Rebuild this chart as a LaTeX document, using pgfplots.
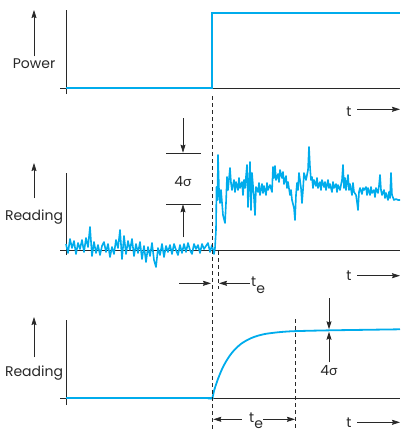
\documentclass[border=0pt]{standalone}
\usepackage{pgfplots}
\pgfplotsset{compat=1.18}
\usepackage{fontspec}
\setmainfont{Poppins}
\newfontfamily\greekfont{Lato}
\usetikzlibrary{arrows.meta}
\definecolor{cyanline}{RGB}{0,172,236}
\definecolor{axisgray}{RGB}{40,40,40}

\pgfplotstableread{
t r
0 6
2 -3
4 11
6 2
8 9
10 -4
12 7
14 1
16 10
18 -2
20 12
22 3
24 23
26 -6
28 8
30 -3
32 5
34 -5
36 4
38 8
40 -2
42 6
44 -7
46 3
48 -4
50 10
52 2
54 20
56 -9
58 14
60 -4
62 9
64 0
66 11
68 -6
70 6
72 -3
74 8
76 -9
78 4
80 -12
82 3
84 -6
86 7
88 -10
90 -17
92 2
94 -5
96 6
98 -7
100 4
102 -2
104 5
106 -4
108 6
110 0
112 -5
114 5
116 -3
118 6
120 -2
122 7
124 0
126 -4
128 6
130 1
132 5
134 -3
136 6
138 1
140 4
142 7
144 -2
146 5
148 -4
149 2
150 20
150.5 63
151.5 50
152 95
153 60
154 47
155 60
157 35
159 27
160 47
161 73
162 60
164 82
165 67
166 60
168 70
169 58
170 68
172 60
173 72
174 62
176 68
177 55
178 70
179 62
181 85
182 43
184 88
185 40
186 77
188 52
189 35
190 63
192 58
193 67
194 55
196 66
197 57
198 64
200 55
201 67
202 60
204 65
206 58
207 83
208 72
209 84
210 70
212 76
213 68
214 80
216 72
217 78
218 66
220 74
221 62
222 68
224 55
225 60
226 50
228 42
229 30
230 55
231 67
232 60
233 77
234 70
235 62
236 47
237 60
238 77
240 70
242 80
243 103
244 83
245 70
246 73
247 62
248 70
250 64
251 72
252 62
254 68
255 60
256 70
258 63
259 68
260 60
262 70
263 62
264 66
266 58
267 68
268 62
270 66
271 58
272 65
274 60
276 70
277 85
278 62
279 72
280 60
282 75
283 60
284 66
286 55
287 67
288 58
290 55
291 48
292 40
293 58
294 62
296 56
297 62
298 60
300 63
301 55
302 62
304 55
305 63
306 57
308 60
309 53
310 62
312 57
313 64
314 75
315 60
316 55
318 60
319 52
320 57
322 50
323 58
324 52
325 77
326 55
328 50
330 51
332 50
334 50
}\noisydata

\pgfplotstableread{
t r
0 0
138 0
142 -0.4
145 -0.6
146.5 0.5
148 7.1
150 13.4
152 19.1
154 24.2
156 28.8
158 32.9
160 36.5
163 41.2
166 45.3
170 49.7
175 54.1
180 57.3
185 59.8
190 61.7
195 63.1
200 64.2
210 65.5
220 66.4
230 66.9
260 67.6
300 68.2
334 68.7
}\responsedata

\pgfplotsset{
  panel/.style={
    x=1pt, y=1pt, anchor=south west,
    xmin=-6, xmax=334,
    axis lines=middle,
    axis line style={-, line width=0.7pt, draw=axisgray},
    xtick=\empty, ytick=\empty,
    clip=false,
  },
}

\begin{document}
\begin{tikzpicture}[x=1pt,y=1pt,
  arr/.style={-{Stealth[length=8pt,width=5pt,inset=1pt]}, line width=0.7pt, draw=axisgray, fill=axisgray},
  lbl/.style={font=\fontsize{14}{16}\selectfont, text=axisgray, inner sep=0pt},
  dsh/.style={line width=0.7pt, draw=axisgray, dash pattern=on 4pt off 3pt}]
\useasboundingbox (0,0) rectangle (400,-431);

% Panel 1: Power
\begin{axis}[panel, at={(60pt,-94pt)}, ymin=-6, ymax=78]
\addplot[cyanline, line width=1.8pt] coordinates {(0,0) (146,0) (146,75) (334,75)};
\end{axis}

% Panel 2: noisy reading
\begin{axis}[panel, at={(60pt,-255pt)}, ymin=-5, ymax=77]
\addplot[cyanline, line width=1.6pt, line join=round] table[x=t, y=r] {\noisydata};
\end{axis}

% Panel 3: smoothed reading
\begin{axis}[panel, at={(60pt,-405pt)}, ymin=-7, ymax=77.5]
\addplot[cyanline, line width=1.8pt, smooth, tension=0.5] table[x=t, y=r] {\responsedata};
\end{axis}

% dashed lines
\draw[dsh] (212,-96) -- (212,-431);
\draw[dsh] (218,-251) -- (218,-289);
\draw[dsh] (295,-319) -- (295,-431);

% vertical axis labels
\draw[arr] (34,-56) -- (34,-10);
\node[lbl, anchor=base] at (34,-68.3) {Power};
\draw[arr] (34,-198) -- (34,-163);
\node[lbl, anchor=base] at (34,-220.7) {Reading};
\draw[arr] (34,-357) -- (34,-317);
\node[lbl, anchor=base] at (34,-376) {Reading};

% t arrows
\node[lbl, anchor=base] at (349,-116) {t};
\draw[arr] (357,-109.3) -- (400,-109.3);
\node[lbl, anchor=base] at (349,-280) {t};
\draw[arr] (357,-275.7) -- (400,-275.7);
\node[lbl, anchor=base] at (349,-427) {t};
\draw[arr] (357,-422.3) -- (400,-422.3);

% 4 sigma, panel 2
\draw[arr] (183,-118) -- (183,-152.7);
\draw[line width=0.7pt, draw=axisgray] (166,-153) -- (201,-153);
\draw[line width=0.7pt, draw=axisgray] (166,-204) -- (201,-204);
\draw[arr] (183,-237) -- (183,-204.3);
\node[lbl, anchor=base] at (183,-186) {4{\greekfont σ}};

% 4 sigma, panel 3
\draw[arr] (329,-298) -- (329,-329.3);
\draw[arr] (329,-362) -- (329,-331.7);
\node[lbl, anchor=base] at (329,-375) {4{\greekfont σ}};

% t_e, panel 2
\draw[arr] (179,-283.3) -- (211,-283.3);
\draw[arr] (250,-283.3) -- (219,-283.3);
\node[lbl, anchor=base west] at (251,-286.7) {t\raisebox{-6.5pt}{e}};

% t_e, panel 3
\draw[arr] (241.7,-419.3) -- (213.3,-419.3);
\draw[arr] (263.3,-419.3) -- (295,-419.3);
\node[lbl, anchor=base west] at (249,-422) {t\raisebox{-6pt}{e}};
\end{tikzpicture}
\end{document}
